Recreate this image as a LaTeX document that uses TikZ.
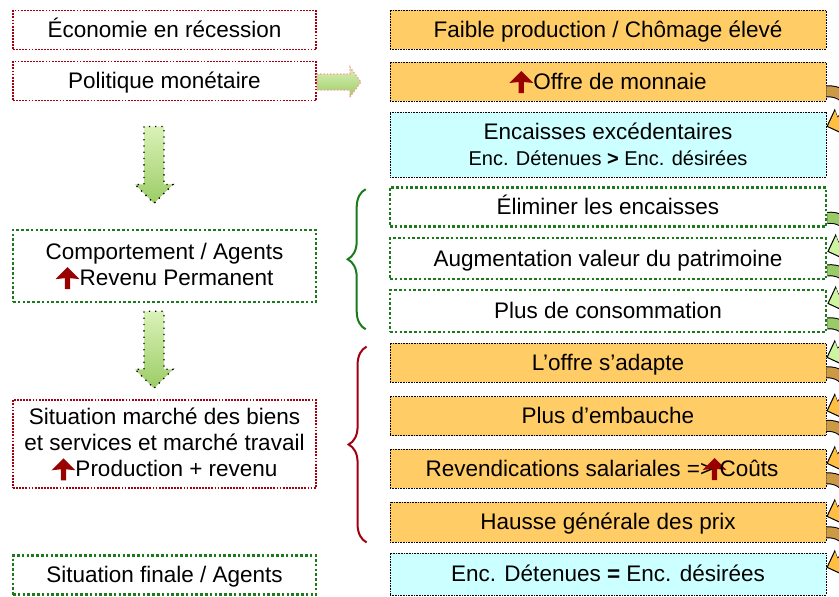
\documentclass[tikz,border=0pt]{standalone}
\usepackage{fontspec}
\setmainfont{Liberation Sans}
\usetikzlibrary{positioning,calc,arrows.meta,decorations.pathreplacing}

\definecolor{orangecase}{HTML}{FFCC66}
\definecolor{cyancase}{HTML}{CCFFFF}
\definecolor{vertpointe}{HTML}{1B7A1B}
\definecolor{rougepointe}{HTML}{A00010}
\definecolor{rougefleche}{HTML}{990000}
\definecolor{vertclair}{HTML}{DAF2B8}
\definecolor{vertfonce}{HTML}{9CCC66}
\definecolor{brun}{HTML}{CC9944}
\definecolor{orangevif}{HTML}{FFBF40}
\definecolor{vertqueue}{HTML}{99CC66}
\definecolor{verttete}{HTML}{CCF5A0}

\def\colG{164.5}
\def\colD{608}

% petite fleche rouge vers le haut, dans le texte
\newcommand{\hausse}{\tikz[baseline=4pt,x=1pt,y=1pt]\fill[rougefleche] (-2.6,0) -- (-2.6,11) -- (-12,10) -- (0,22) -- (12,10) -- (2.6,11) -- (2.6,0) -- cycle;}

\begin{document}
\begin{tikzpicture}[x=1pt,y=-1pt]
        \tikzstyle{texte}=[font=\fontsize{22.5}{26}\selectfont, align=center, inner sep=0pt]
        \tikzstyle{boite}=[texte, minimum height=39pt]
        \tikzstyle{une ligne}=[text height=18pt, text depth=3pt]
        \tikzstyle{gauche}=[boite, minimum width=303pt]
        \tikzstyle{droite}=[boite, minimum width=436pt]
        \tikzstyle{rouge pointille}=[draw=rougepointe, line width=1.8pt, dash pattern=on 1.8pt off 1.3pt]
        \tikzstyle{vert pointille}=[draw=vertpointe, line width=2.6pt, dash pattern=on 2.6pt off 2.2pt]
        \tikzstyle{case orange}=[droite, fill=orangecase, draw=black, line width=0.8pt, dash pattern=on 0.8pt off 0.8pt]
        \tikzstyle{case cyan}=[case orange, fill=cyancase]
        \tikzstyle{case verte}=[droite, fill=white, vert pointille]
        \tikzstyle{fleche bas}=[top color=vertclair, bottom color=vertfonce,
            draw=black, line width=1.3pt, dash pattern=on 1.3pt off 5pt]
        \tikzstyle{fleche droite}=[top color=vertclair, bottom color=vertfonce,
            draw=red!40, line width=1.3pt, dash pattern=on 1.3pt off 2pt]
        \tikzstyle{accolade}=[decorate, decoration={brace, amplitude=18pt}, line width=2pt]

        \useasboundingbox (0,0) rectangle (839,597);
        \fill[white] (0,0) rectangle (839,597);
        \clip (0,0) rectangle (839,597);

        % Colonne de gauche
        \node[gauche, une ligne, rouge pointille] (eco) at (\colG,30) {Économie en récession};
        \node[gauche, une ligne, rouge pointille] (pol) at (\colG,81) {Politique monétaire};
        \node[gauche, vert pointille, minimum height=72pt] (comp) at (\colG,266)
            {Comportement / Agents\\\hausse Revenu Permanent};
        \node[gauche, rouge pointille, minimum height=88pt] (marche) at (\colG,444)
            {Situation marché des biens\\et services et marché travail\\\hausse Production + revenu};
        \node[gauche, une ligne, vert pointille] (fin) at (\colG,575) {Situation finale / Agents};

        % Fleches vertes
        \coordinate (versoffre) at ($(pol.east)+(0,1)$);
        \coordinate (bas1) at ($(pol.south)+(-10.5,25)$);
        \coordinate (bas2) at ($(comp.south)+(-10.5,8)$);
        \path[fleche droite] (versoffre) ++(0,-8) -- ++(33,0) -- ++(0,-7) -- ++(11,15) -- ++(-11,15) -- ++(0,-7) -- ++(-33,0) -- cycle;
        \foreach \haut in {bas1,bas2}
            \path[fleche bas] (\haut) ++(-10,0) -- ++(0,58) -- ++(-9,0) -- ++(19,19) -- ++(19,-19) -- ++(-9,0) -- ++(0,-58) -- cycle;

        % Colonne de droite
        \node[case orange, une ligne] (faible) at (\colD,29.5) {Faible production / Chômage élevé};
        \node[case orange, une ligne] (offre) at (\colD,81.5) {\hausse Offre de monnaie};
        \node[case cyan, minimum height=65pt] (encaisses) at (\colD,144.5)
            {Encaisses excédentaires\\{\fontsize{20}{24}\selectfont Enc. Détenues \textbf{>} Enc. désirées}};
        \node[case verte, une ligne] (elim) at (\colD,207) {Éliminer les encaisses};
        \node[case verte, une ligne, minimum height=41pt] (patrimoine) at (\colD,258.5) {Augmentation valeur du patrimoine};
        \node[case verte, une ligne, minimum height=42pt] (conso) at (\colD,311) {Plus de consommation};
        \node[case orange, une ligne] (adapte) at (\colD,362.5) {L’offre s’adapte};
        \node[case orange, une ligne] (embauche) at (\colD,416) {Plus d’embauche};
        \node[case orange, une ligne] (revend) at (\colD,468.5) {\kern-12pt Revendications salariales => \makebox[0pt]{\hausse\kern10pt}Coûts};
        \node[case orange, une ligne, minimum height=40pt] (prix) at (\colD,522) {Hausse générale des prix};
        \node[case cyan, une ligne, minimum height=42pt] (final) at (\colD,574) {Enc. Détenues \textbf{=} Enc. désirées};

        % Accolades
        \draw[accolade, vertpointe] ([xshift=-23pt,yshift=4pt]conso.south west) -- ([xshift=-23pt,yshift=-3pt]elim.north west);
        \draw[accolade, rougepointe] ([xshift=-23pt]prix.south west) -- ([xshift=-23pt,yshift=-4pt]adapte.north west);

        % Fleches courbes entre les cases de droite
        \foreach \a/\b/\queue/\tete in {offre/encaisses/brun/orangevif, elim/patrimoine/vertqueue/verttete,
            patrimoine/conso/vertqueue/verttete, conso/adapte/vertqueue/verttete, adapte/embauche/brun/orangevif,
            embauche/revend/brun/orangevif, revend/prix/brun/orangevif, prix/final/brun/orangevif}
        {
            \coordinate (m) at ($(\a.south east)!0.5!(\b.north east)+(22,0)$);
            \draw[line width=12pt, black] ([yshift=10pt]\a.south east) to[out=5, in=90] (m);
            \draw[line width=10pt, \queue] ([yshift=10pt]\a.south east) to[out=5, in=90] (m);
            \draw[line width=11pt, black, -{Triangle[length=14pt,width=27pt]}] (m) to[out=-90, in=20] ([yshift=-15pt]\b.north east);
            \draw[line width=9pt, \tete, shorten >=1.6pt, -{Triangle[length=12pt,width=23pt]}] (m) to[out=-90, in=20] ([yshift=-15pt]\b.north east);
        }
\end{tikzpicture}
\end{document}
